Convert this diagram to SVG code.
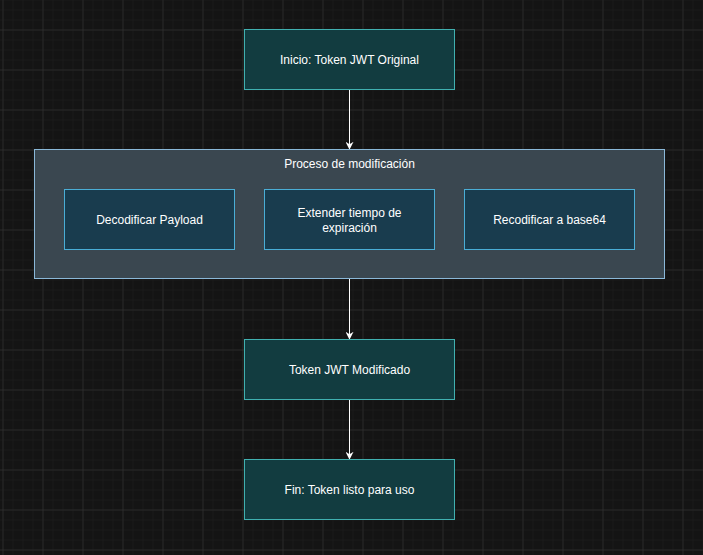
<svg xmlns="http://www.w3.org/2000/svg" width="703" height="555" viewBox="0 0 703 555">
<style>
  .t { font-family: "Liberation Sans", Arial, sans-serif; font-size: 12px; fill: #ffffff; text-anchor: middle; dominant-baseline: central; }
  .term { fill: #123c40; stroke: #40b0b0; stroke-width: 1; }
  .step { fill: #193c4e; stroke: #4aaed6; stroke-width: 1; }
  .grp { fill: #3a4750; stroke: #8ab8d8; stroke-width: 1; }
  .edge { stroke: #ffffff; stroke-width: 1; fill: none; }
</style>
<defs>
  <pattern id="minor" x="2.5" y="29.5" width="10" height="10" patternUnits="userSpaceOnUse">
    <path d="M0 0 H10 M0 0 V10" stroke="#202020" stroke-width="1" fill="none"/>
  </pattern>
  <pattern id="major" x="2.5" y="29.5" width="40" height="40" patternUnits="userSpaceOnUse">
    <path d="M0 0 H40 M0 0 V40" stroke="#353535" stroke-width="1" fill="none"/>
  </pattern>
  <marker id="arrow" viewBox="0 0 10 10" refX="9" refY="5" markerWidth="8" markerHeight="8" orient="auto" markerUnits="userSpaceOnUse">
    <path d="M0 0 L10 5 L0 10 L3 5 Z" fill="#ffffff"/>
  </marker>
</defs>
<rect width="703" height="555" fill="#141414"/>
<rect width="703" height="555" fill="url(#minor)"/>
<rect width="703" height="555" fill="url(#major)"/>

<g id="connectors">
  <line class="edge" x1="349.5" y1="89.5" x2="349.5" y2="149" marker-end="url(#arrow)"/>
  <line class="edge" x1="349.5" y1="279" x2="349.5" y2="339" marker-end="url(#arrow)"/>
  <line class="edge" x1="349.5" y1="399.5" x2="349.5" y2="459" marker-end="url(#arrow)"/>
</g>

<g id="start">
  <rect class="term" x="244.5" y="29.5" width="210" height="60"/>
  <text class="t" x="349.5" y="59.5">Inicio: Token JWT Original</text>
</g>

<g id="proceso">
  <rect class="grp" x="34.5" y="149.5" width="630" height="129"/>
  <text class="t" x="349.5" y="163.5">Proceso de modificación</text>
</g>

<g id="decodificar">
  <rect class="step" x="64.5" y="189.5" width="170" height="60"/>
  <text class="t" x="149.5" y="219.5">Decodificar Payload</text>
</g>

<g id="extender">
  <rect class="step" x="264.5" y="189.5" width="170" height="60"/>
  <text class="t" x="349.5" y="212.5">Extender tiempo de</text>
  <text class="t" x="349.5" y="227.5">expiración</text>
</g>

<g id="recodificar">
  <rect class="step" x="464.5" y="189.5" width="170" height="60"/>
  <text class="t" x="549.5" y="219.5">Recodificar a base64</text>
</g>

<g id="modificado">
  <rect class="term" x="244.5" y="339.5" width="210" height="60"/>
  <text class="t" x="349.5" y="369.5">Token JWT Modificado</text>
</g>

<g id="fin">
  <rect class="term" x="244.5" y="459.5" width="210" height="60"/>
  <text class="t" x="349.5" y="489.5">Fin: Token listo para uso</text>
</g>
</svg>
